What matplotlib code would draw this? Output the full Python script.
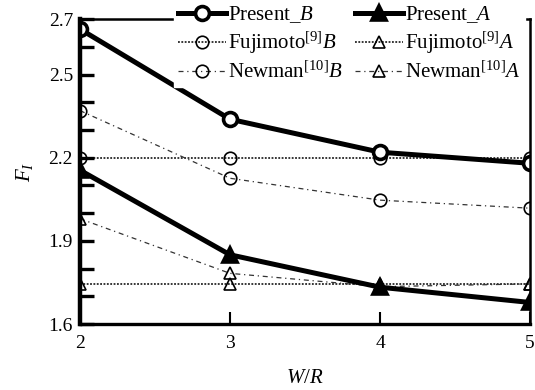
import matplotlib

matplotlib.use("Agg")
import matplotlib.pyplot as plt
from matplotlib.ticker import FixedLocator, FixedFormatter

plt.rcParams["font.family"] = ["Liberation Serif", "DejaVu Serif"]
plt.rcParams["mathtext.fontset"] = "custom"
plt.rcParams["mathtext.rm"] = "Liberation Serif"
plt.rcParams["mathtext.it"] = "Liberation Serif:italic"

# W/R values
wr = [2, 3, 4, 5]

# F_I values
present_b = [2.664, 2.339, 2.220, 2.180]
present_a = [2.155, 1.850, 1.733, 1.678]
fujimoto_b = [2.200, 2.200, 2.200, 2.200]
fujimoto_a = [1.746, 1.746, 1.746, 1.746]
newman_b = [2.370, 2.126, 2.047, 2.018]
newman_a = [1.980, 1.783, 1.735, 1.745]

y_ticks = [1.6, 1.7, 1.8, 1.9, 2.0, 2.1, 2.2, 2.3, 2.4, 2.5, 2.6, 2.7]
y_tick_labels = ["1.6", "", "", "1.9", "", "", "2.2", "", "", "2.5", "", "2.7"]
x_ticks = [2, 3, 4, 5]
x_tick_labels = ["2", "3", "4", "5"]

fig = plt.figure(figsize=(5.35, 3.9), dpi=100, facecolor="white")
ax = fig.add_axes([0.1495, 0.169, 0.8412, 0.782])

thick = dict(color="black", linewidth=3.6, markeredgewidth=2.6, zorder=5)
ax.plot(wr, present_b, marker="o", markersize=10, markerfacecolor="white",
        label="Present_$B$", **thick)
ax.plot(wr, present_a, marker="^", markersize=10, markerfacecolor="black",
        label="Present_$A$", **thick)

dotted = (0, (1.2, 1.0))
ax.plot(wr, fujimoto_b, color="black", linestyle=dotted, linewidth=1.1,
        marker="o", markersize=9, markerfacecolor="none", markeredgewidth=1.2,
        label="Fujimoto$^{[9]}$$B$", zorder=3)
ax.plot(wr, fujimoto_a, color="black", linestyle=dotted, linewidth=1.1,
        marker="^", markersize=8, markerfacecolor="none", markeredgewidth=1.2,
        label="Fujimoto$^{[9]}$$A$", zorder=3)

dashdot = (0, (4, 3, 1, 3))
ax.plot(wr, newman_b, color="#333333", linestyle=dashdot, linewidth=0.9,
        marker="o", markersize=9, markerfacecolor="none",
        markeredgecolor="black", markeredgewidth=1.2,
        label="Newman$^{[10]}$$B$", zorder=3)
ax.plot(wr, newman_a, color="#333333", linestyle=dashdot, linewidth=0.9,
        marker="^", markersize=8, markerfacecolor="none",
        markeredgecolor="black", markeredgewidth=1.2,
        label="Newman$^{[10]}$$A$", zorder=3)

ax.set_xlim(2, 5)
ax.set_ylim(1.6, 2.7)

ax.yaxis.set_major_locator(FixedLocator(y_ticks))
ax.yaxis.set_major_formatter(FixedFormatter(y_tick_labels))
ax.xaxis.set_major_locator(FixedLocator(x_ticks))
ax.xaxis.set_major_formatter(FixedFormatter(x_tick_labels))
ax.tick_params(axis="y", direction="in", length=10, width=2.4, labelsize=14, pad=5)
ax.tick_params(axis="x", direction="in", length=9, width=1.5, labelsize=14, pad=8)

ax.spines["left"].set_linewidth(3.2)
ax.spines["bottom"].set_linewidth(2.4)
ax.spines["right"].set_linewidth(1.8)
ax.spines["top"].set_linewidth(1.8)
for sp in ax.spines.values():
    sp.set_zorder(6)

ax.set_xlabel("$W/R$", fontsize=15, labelpad=12)
ax.set_ylabel("$F_I$", fontsize=15, labelpad=10)

handles, labels = ax.get_legend_handles_labels()
order = [0, 2, 4, 1, 3, 5]
leg = fig.legend(
    [handles[i] for i in order],
    [labels[i] for i in order],
    loc="upper left",
    bbox_to_anchor=(0.325, 1.0),
    ncol=2,
    fontsize=15,
    frameon=True,
    fancybox=False,
    edgecolor="white",
    facecolor="white",
    framealpha=1,
    handlelength=2.3,
    handletextpad=0.1,
    columnspacing=0.6,
    labelspacing=0.25,
    borderpad=0.2,
    borderaxespad=0,
)
leg.set_zorder(10)

fig.savefig("out.png", dpi=100, facecolor="white")
plt.close(fig)
